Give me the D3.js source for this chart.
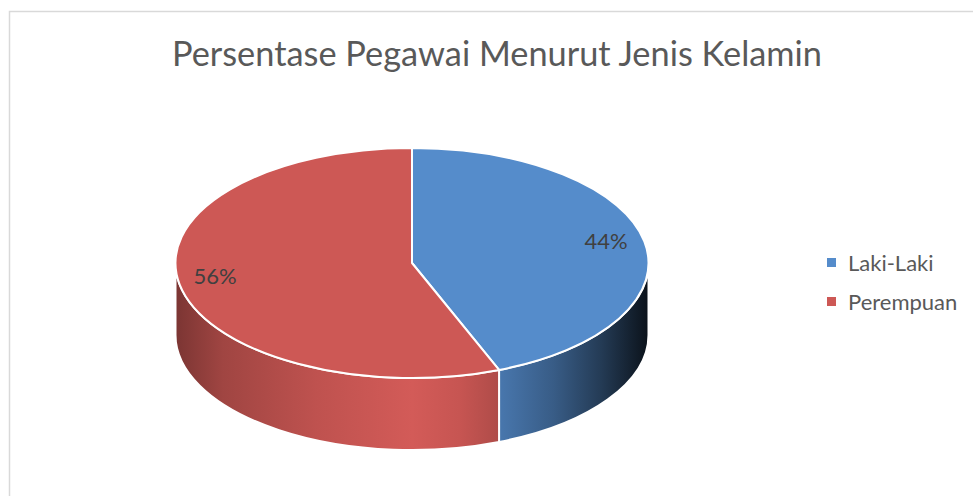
<!DOCTYPE html>
<html>
<head>
<meta charset="utf-8">
<script src="https://cdn.jsdelivr.net/npm/d3@7"></script>
<style>
  html, body { margin: 0; padding: 0; background: #fff; }
  svg { display: block; }
</style>
</head>
<body>
<div id="chart"></div>
<script>
// data
const categories = ["Laki-Laki", "Perempuan"];
const values = [44, 56];
const colors = ["#558CCB", "#CD5855"];
const titleText = "Persentase Pegawai Menurut Jenis Kelamin";

// side brightness across the pie width (offset, factor)
const shade = [[0, 0.6], [0.1, 0.78], [0.3, 0.93], [0.5, 1.03], [0.6, 0.97],
               [0.68, 0.86], [0.8, 0.66], [0.9, 0.42], [1, 0.13]];

const width = 973, height = 496;
const svg = d3.select("#chart").append("svg")
    .attr("width", width)
    .attr("height", height);

// chart border
svg.append("rect")
    .attr("x", 9.5).attr("y", 11.5)
    .attr("width", 1000).attr("height", 1000)
    .attr("fill", "none")
    .attr("stroke", "#d9d9d9")
    .attr("stroke-width", 1.5);

svg.append("text")
    .attr("x", 497).attr("y", 66)
    .attr("text-anchor", "middle")
    .attr("font-family", "Lato, 'Open Sans', sans-serif")
    .attr("font-size", 34)
    .attr("fill", "#595959")
    .attr("textLength", 650)
    .attr("lengthAdjust", "spacingAndGlyphs")
    .text(titleText);

// pie geometry
const cx = 412, cy = 263, rx = 236.5, ry = 115, depth = 72;
const pt = (a, dy = 0) => [cx + rx * Math.sin(a), cy - ry * Math.cos(a) + dy];

const pie = d3.pie().sort(null).startAngle(0).endAngle(2 * Math.PI);
const arcs = pie(values);

const defs = svg.append("defs");
arcs.forEach((d, i) => {
    const base = d3.rgb(colors[i]);
    const g = defs.append("linearGradient")
        .attr("id", "side" + i)
        .attr("gradientUnits", "userSpaceOnUse")
        .attr("x1", cx - rx).attr("x2", cx + rx)
        .attr("y1", 0).attr("y2", 0);
    shade.forEach(([o, f]) => {
        g.append("stop")
            .attr("offset", o)
            .attr("stop-color", d3.rgb(base.r * f, base.g * f, base.b * f).formatHex());
    });
});

function topPath(a0, a1) {
    const p0 = pt(a0), p1 = pt(a1);
    const large = a1 - a0 > Math.PI ? 1 : 0;
    return `M${cx},${cy}L${p0}A${rx},${ry} 0 ${large} 1 ${p1}Z`;
}

function sidePath(a0, a1) {
    const s = Math.max(a0, Math.PI / 2), e = Math.min(a1, 3 * Math.PI / 2);
    if (e <= s) return null;
    const p0 = pt(s), p1 = pt(e), q1 = pt(e, depth), q0 = pt(s, depth);
    return `M${p0}A${rx},${ry} 0 0 1 ${p1}L${q1}A${rx},${ry} 0 0 0 ${q0}Z`;
}

const pieG = svg.append("g");

pieG.selectAll("path.side")
    .data(arcs.filter(d => sidePath(d.startAngle, d.endAngle)))
    .join("path")
    .attr("class", "side")
    .attr("d", d => sidePath(d.startAngle, d.endAngle))
    .attr("fill", d => `url(#side${d.index})`)
    .attr("stroke", "#fff")
    .attr("stroke-width", 2)
    .attr("stroke-linejoin", "round");

pieG.selectAll("path.top")
    .data(arcs)
    .join("path")
    .attr("class", "top")
    .attr("d", d => topPath(d.startAngle, d.endAngle))
    .attr("fill", d => colors[d.index])
    .attr("stroke", "#fff")
    .attr("stroke-width", 2)
    .attr("stroke-linejoin", "round");

// data labels
const labelPos = [[606, 249], [215, 284]];
svg.append("g")
    .selectAll("text")
    .data(arcs)
    .join("text")
    .attr("x", (d, i) => labelPos[i][0])
    .attr("y", (d, i) => labelPos[i][1])
    .attr("text-anchor", "middle")
    .attr("font-family", "Lato, 'Open Sans', sans-serif")
    .attr("font-size", 22)
    .attr("fill", "#404040")
    .text(d => d.value + "%");

// legend
const legend = svg.append("g")
    .selectAll("g")
    .data(categories)
    .join("g")
    .attr("transform", (d, i) => `translate(827,${258 + i * 39})`);

legend.append("rect")
    .attr("width", 9).attr("height", 9)
    .attr("fill", (d, i) => colors[i]);

legend.append("text")
    .attr("x", 21).attr("y", 13)
    .attr("font-family", "Lato, 'Open Sans', sans-serif")
    .attr("font-size", 22)
    .attr("fill", "#595959")
    .text(d => d);
</script>
</body>
</html>
